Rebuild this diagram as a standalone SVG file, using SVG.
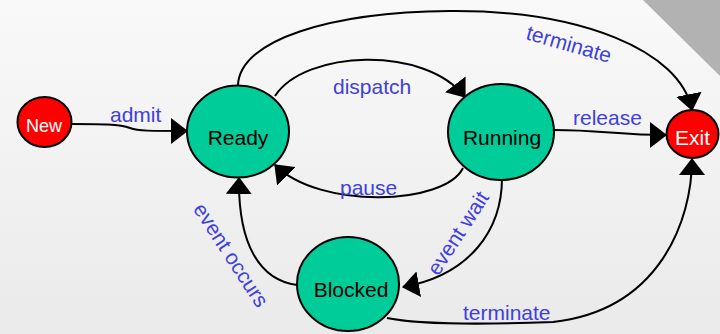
<svg xmlns="http://www.w3.org/2000/svg" width="720" height="334" viewBox="0 0 720 334">
  <defs>
    <linearGradient id="bg" x1="0" y1="0" x2="0" y2="1">
      <stop offset="0" stop-color="#f9f9f9"/>
      <stop offset="1" stop-color="#eaeaea"/>
    </linearGradient>
    <marker id="arrow" markerUnits="userSpaceOnUse" markerWidth="17" markerHeight="26" refX="16" refY="13" orient="auto" viewBox="0 0 17 26">
      <path d="M0,0 L17,13 L0,26 Z" fill="#000"/>
    </marker>
    <style>
      .state { fill: #00cc99; stroke: #000; stroke-width: 2; }
      .term { fill: #ff0000; stroke: #000; stroke-width: 2; }
      .name { font-family: "Liberation Sans", Arial, sans-serif; font-size: 21px; text-anchor: middle; fill: #000; }
      .tname { font-family: "Liberation Sans", Arial, sans-serif; text-anchor: middle; fill: #fff; }
      .edge { fill: none; stroke: #000; stroke-width: 2; marker-end: url(#arrow); }
      .label { font-family: "Liberation Sans", Arial, sans-serif; font-size: 21px; fill: #4040dd; }
    </style>
  </defs>

  <!-- backdrop -->
  <rect x="0" y="0" width="720" height="334" fill="url(#bg)"/>
  <polygon points="643,0 720,0 720,76" fill="#b2b2b2"/>

  <!-- transitions -->
  <g id="connectors">
    <path class="edge" d="M72,124 C100,124 120,124 130,128 C138,131 150,131 187,131"/>
    <path class="edge" d="M275,96 C305,50 425,45 465,97"/>
    <path class="edge" d="M238,85 C240,40 330,12 450,11 C580,10 680,50 692,110"/>
    <path class="edge" d="M554,130 C600,130 620,135 666,135"/>
    <path class="edge" d="M463,168 C445,205 320,210 275,165"/>
    <path class="edge" d="M502,178 C502,230 470,275 403,287"/>
    <path class="edge" d="M297,285 C260,280 238,245 239,178"/>
    <path class="edge" d="M387,318 C420,325 500,324 553,322 C660,310 692,220 692,159"/>
  </g>

  <!-- transition labels -->
  <g id="labels">
    <text class="label" x="110" y="122">admit</text>
    <text class="label" x="333" y="94">dispatch</text>
    <text class="label" x="573" y="125">release</text>
    <text class="label" x="340" y="195">pause</text>
    <text class="label" x="463" y="320">terminate</text>
    <text class="label" text-anchor="middle" transform="translate(567,51) rotate(16)">terminate</text>
    <text class="label" text-anchor="middle" transform="translate(225,259) rotate(57)">event occurs</text>
    <text class="label" text-anchor="middle" transform="translate(464,237) rotate(-57)">event wait</text>
  </g>

  <!-- states -->
  <g id="node-new">
    <ellipse class="term" cx="44.5" cy="122" rx="27" ry="25"/>
    <text class="tname" x="44" y="132" font-size="18">New</text>
  </g>
  <g id="node-ready">
    <ellipse class="state" cx="238" cy="131.5" rx="51" ry="46"/>
    <text class="name" x="238" y="145">Ready</text>
  </g>
  <g id="node-running">
    <ellipse class="state" cx="501" cy="132" rx="53" ry="48"/>
    <text class="name" x="502" y="145">Running</text>
  </g>
  <g id="node-blocked">
    <ellipse class="state" cx="348" cy="284" rx="51" ry="47"/>
    <text class="name" x="351" y="297">Blocked</text>
  </g>
  <g id="node-exit">
    <ellipse class="term" cx="692.5" cy="134" rx="26" ry="24"/>
    <text class="tname" x="692.5" y="145" font-size="21">Exit</text>
  </g>
</svg>
